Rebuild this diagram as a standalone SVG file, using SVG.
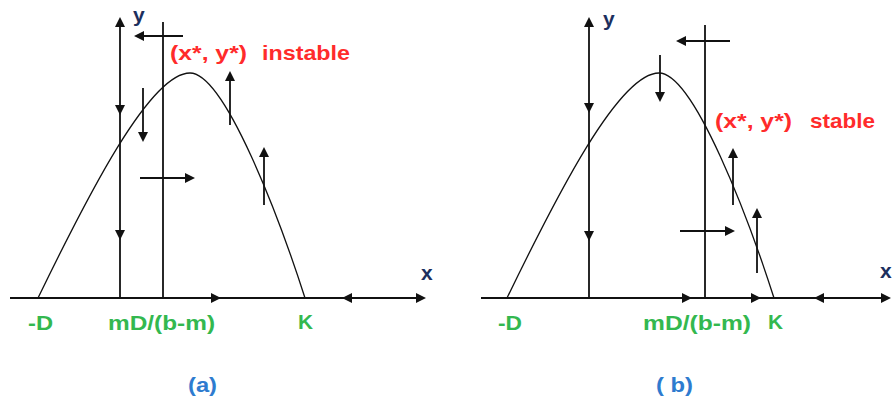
<svg xmlns="http://www.w3.org/2000/svg" width="893" height="401" viewBox="0 0 893 401">
<style>
.ln{stroke:#111;stroke-width:1.8;fill:none}
.cv{stroke:#111;stroke-width:1.3;fill:none}
.ah{fill:#111}
.ax{font-family:"Liberation Sans",Arial,sans-serif;font-weight:bold;font-size:21px;fill:#1c2f5e}
.rd{font-family:"Liberation Sans",Arial,sans-serif;font-weight:bold;font-size:21px;fill:#ff2b2b}
.gr{font-family:"Liberation Sans",Arial,sans-serif;font-weight:bold;font-size:20px;fill:#33b84f}
.bl{font-family:"Liberation Sans",Arial,sans-serif;font-weight:bold;font-size:20px;fill:#2e7bcf}
</style>
<defs>
<path id="ah" class="ah" d="M0,0 L-10,-5 L-10,5 Z"/>
</defs>
<rect width="893" height="401" fill="#fff"/>
<g id="panel-a">
<g id="curve-a"><path class="cv" d="M38,298 C88,195 150,73 190,73 C225,73 280,220 305,298"/></g>
<g id="axes-a">
<line class="ln" x1="10" y1="298" x2="422" y2="298"/>
<use href="#ah" transform="translate(426,298)"/>
<use href="#ah" transform="translate(221,298)"/>
<use href="#ah" transform="translate(342,298) rotate(180)"/>
<line class="ln" x1="120" y1="298" x2="120" y2="22"/>
<use href="#ah" transform="translate(120,17) rotate(-90)"/>
<use href="#ah" transform="translate(120,115) rotate(90)"/>
<use href="#ah" transform="translate(120,240) rotate(90)"/>
<line class="ln" x1="163" y1="22" x2="163" y2="298"/>
</g>
<g id="arrows-a">
<line class="ln" x1="183" y1="36" x2="138" y2="36"/>
<use href="#ah" transform="translate(134,36) rotate(180)"/>
<line class="ln" x1="143" y1="88" x2="143" y2="138"/>
<use href="#ah" transform="translate(143,142) rotate(90)"/>
<line class="ln" x1="230" y1="125" x2="230" y2="76"/>
<use href="#ah" transform="translate(230,71) rotate(-90)"/>
<line class="ln" x1="264" y1="205" x2="264" y2="152"/>
<use href="#ah" transform="translate(264,147) rotate(-90)"/>
<line class="ln" x1="140" y1="178" x2="191" y2="178"/>
<use href="#ah" transform="translate(195,178)"/>
</g>
<text class="ax" x="133" y="22">y</text>
<text class="ax" x="421" y="280">x</text>
<text class="rd" x="170" y="60" textLength="77" lengthAdjust="spacingAndGlyphs">(x*, y*)</text>
<text class="rd" x="262" y="60" textLength="88" lengthAdjust="spacingAndGlyphs">instable</text>
<text class="gr" x="28" y="330" textLength="25" lengthAdjust="spacingAndGlyphs">-D</text>
<text class="gr" x="108" y="330" textLength="107" lengthAdjust="spacingAndGlyphs">mD/(b-m)</text>
<text class="gr" x="298" y="329" textLength="15" lengthAdjust="spacingAndGlyphs">K</text>
<text class="bl" x="188" y="392" textLength="29" lengthAdjust="spacingAndGlyphs">(a)</text>
</g>
<g id="panel-b">
<g id="curve-b"><path class="cv" d="M507,298 C557,195 619,73 659,73 C694,73 749,220 774,298"/></g>
<g id="axes-b">
<line class="ln" x1="481" y1="298" x2="887" y2="298"/>
<use href="#ah" transform="translate(891,298)"/>
<use href="#ah" transform="translate(692,298)"/>
<use href="#ah" transform="translate(761,298)"/>
<use href="#ah" transform="translate(814,298) rotate(180)"/>
<line class="ln" x1="589" y1="298" x2="589" y2="22"/>
<use href="#ah" transform="translate(589,17) rotate(-90)"/>
<use href="#ah" transform="translate(589,113) rotate(90)"/>
<use href="#ah" transform="translate(589,241) rotate(90)"/>
<line class="ln" x1="705" y1="25" x2="705" y2="298"/>
</g>
<g id="arrows-b">
<line class="ln" x1="730" y1="41" x2="680" y2="41"/>
<use href="#ah" transform="translate(676,41) rotate(180)"/>
<line class="ln" x1="660" y1="55" x2="660" y2="98"/>
<use href="#ah" transform="translate(660,102) rotate(90)"/>
<line class="ln" x1="733" y1="205" x2="733" y2="153"/>
<use href="#ah" transform="translate(733,148) rotate(-90)"/>
<line class="ln" x1="757" y1="273" x2="757" y2="213"/>
<use href="#ah" transform="translate(757,208) rotate(-90)"/>
<line class="ln" x1="680" y1="231" x2="731" y2="231"/>
<use href="#ah" transform="translate(735,231)"/>
</g>
<text class="ax" x="603" y="26">y</text>
<text class="ax" x="880" y="278">x</text>
<text class="rd" x="715" y="128" textLength="77" lengthAdjust="spacingAndGlyphs">(x*, y*)</text>
<text class="rd" x="810" y="128" textLength="65" lengthAdjust="spacingAndGlyphs">stable</text>
<text class="gr" x="498" y="330" textLength="24" lengthAdjust="spacingAndGlyphs">-D</text>
<text class="gr" x="643" y="330" textLength="108" lengthAdjust="spacingAndGlyphs">mD/(b-m)</text>
<text class="gr" x="768" y="329" textLength="15" lengthAdjust="spacingAndGlyphs">K</text>
<text class="bl" x="656" y="392" textLength="37" lengthAdjust="spacingAndGlyphs">( b)</text>
</g>
</svg>
